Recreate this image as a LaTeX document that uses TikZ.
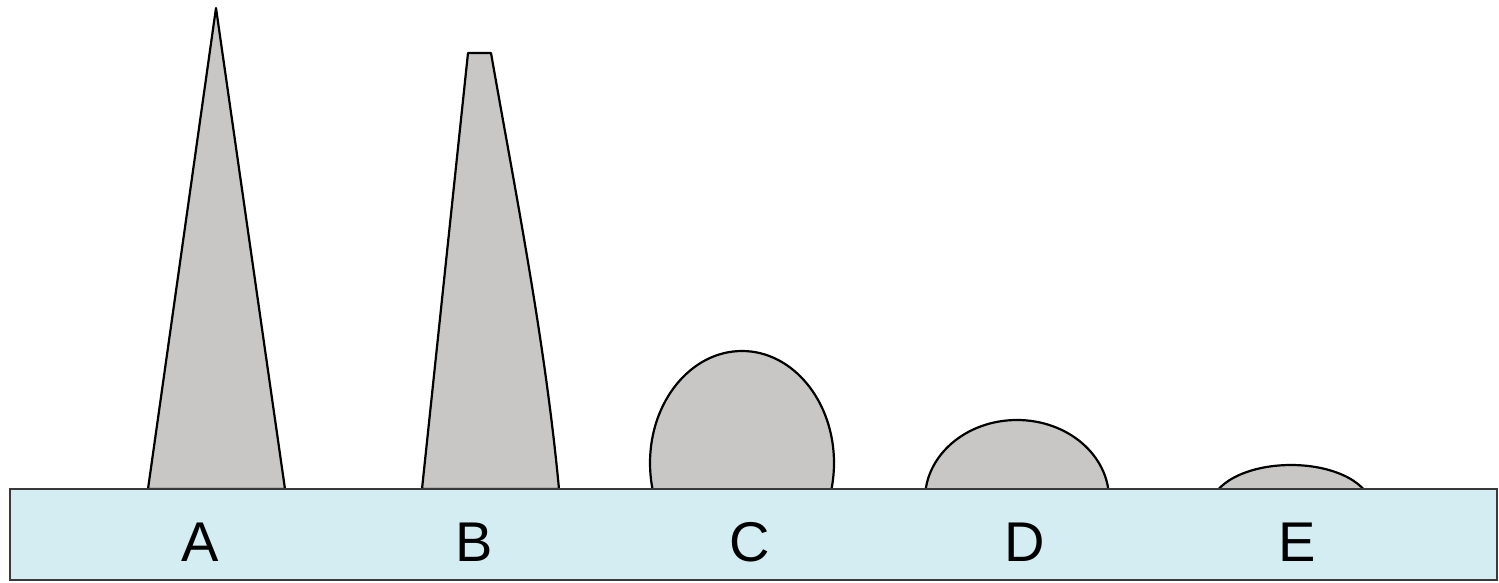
\documentclass[tikz,border=0pt]{standalone}
\usepackage{fontspec}
\setmainfont{Liberation Sans}
\begin{document}
\begin{tikzpicture}[x=1pt,y=-1pt,
  body/.style={fill=bodygray,draw=black,line width=2.2pt,line join=round},
  base/.style={fill=basecyan,draw=edgegray,line width=2.8pt},
  letter/.style={font=\fontsize{56}{60}\selectfont,inner sep=0pt}]
\definecolor{bodygray}{HTML}{C8C7C6}
\definecolor{basecyan}{HTML}{D4EDF2}
\definecolor{edgegray}{HTML}{3A3A3A}
\useasboundingbox (0,0) rectangle (1499,583);

% A: sharp cone
\draw[body] (148,489) -- (216,8) -- (285,489) -- cycle;
% B: truncated cone with a slightly bulging right flank
\draw[body] (422,489) -- (468,53) -- (491,53)
  .. controls (515,190) and (545,340) .. (559,489) -- cycle;

% C, D, E: rounded caps, cut off at the base line
\begin{scope}
  \clip (0,0) rectangle (1499,489);
  \draw[body] (742,463) ellipse [x radius=92, y radius=112];
  \draw[body] (1017,499) ellipse [x radius=92, y radius=79];
  \draw[body] (1291,507) ellipse [x radius=80, y radius=42];
\end{scope}

% substrate
\draw[base] (10,489) rectangle (1497,580);

\node[letter] (labA) at (200,542) {A};
\node[letter] (labB) at (474,542) {B};
\node[letter] (labC) at (750,542) {C};
\node[letter] (labD) at (1025,542) {D};
\node[letter] (labE) at (1297,542) {E};
\end{tikzpicture}
\end{document}
